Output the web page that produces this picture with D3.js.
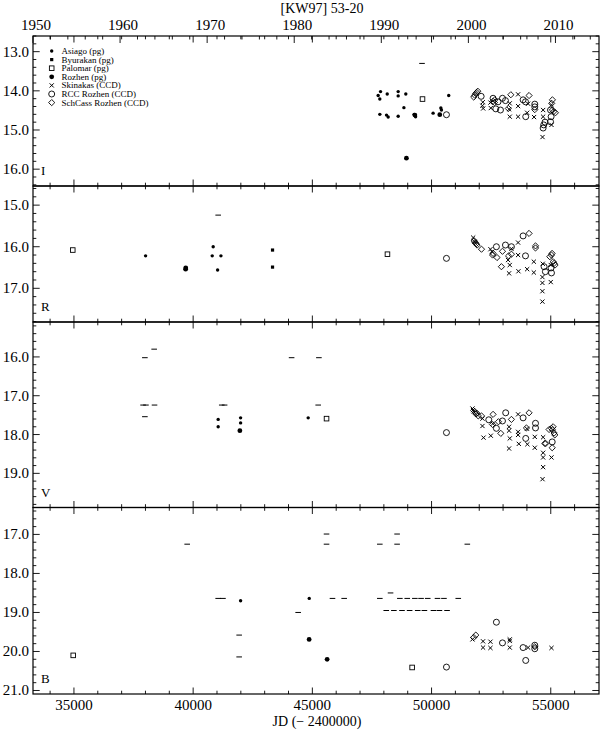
<!DOCTYPE html>
<html><head><meta charset="utf-8">
<script src="https://cdn.jsdelivr.net/npm/d3@7"></script>
<style>
body{margin:0;background:#fff;}
text{font-family:"Liberation Serif","DejaVu Serif",serif;fill:#000;}
</style></head>
<body>
<svg id="c" width="600" height="730"></svg>
<script>
// ---------- DATA (JD - 2400000, magnitude) ----------
const title = "[KW97] 53-20";
const xTitle = "JD (\u2212 2400000)";
const jdTicksMajor = [35000, 40000, 45000, 50000, 55000];
const yearLabels = [1950, 1960, 1970, 1980, 1990, 2000, 2010];
const legendNames = ["Asiago (pg)", "Byurakan (pg)", "Palomar (pg)", "Rozhen (pg)", "Skinakas (CCD)", "RCC Rozhen (CCD)", "SchCass Rozhen (CCD)"];
const legendKeys = ["asiago", "byurakan", "palomar", "rozhen", "skinakas", "rcc", "schcass"];
const bandNames = ["I", "R", "V", "B"];
const bandDomains = [[12.60, 16.43], [14.54, 17.81], [15.10, 19.88], [16.31, 21.09]];
const bandMajor = [[13, 14, 15, 16], [15, 16, 17], [16, 17, 18, 19], [17, 18, 19, 20, 21]];

// I band
const asiagoI = [[47760,14.12],[47860,14.02],[47830,14.21],[48140,14.08],[48600,14.02],[48600,14.13],[48920,14.08],[47830,14.60],[48110,14.62],[48180,14.67],[48600,14.65],[48840,14.43],[49270,14.60],[49330,14.66],[50065,14.57],[50390,14.44],[50415,14.49],[50720,14.12]];
const byurakanI = [];
const palomarI = [[49620,14.21]];
const rozhenI = [[48945,15.72],[49300,14.62],[50345,14.61]];
const skinakasI = [[52150,14.29],[52135,14.38],[52165,14.45],[52470,14.30],[52485,14.44],[53280,14.32],[53280,14.66],[53250,14.47],[53630,14.09],[53630,14.39],[53630,14.66],[54050,14.33],[54010,14.56],[54300,14.67],[54680,14.49],[54680,14.66],[54655,15.18],[55030,14.36],[55030,14.87]];
const rccI = [[50625,14.61],[52080,14.14],[52580,14.19],[52790,14.28],[52695,14.46],[52890,14.49],[52975,14.19],[53100,14.25],[53840,14.23],[53940,14.28],[53950,14.66],[54330,14.34],[54330,14.41],[54760,14.80],[54705,14.87],[54680,14.95],[54990,14.49],[55015,14.66],[54990,14.79]];
const schcassI = [[51770,14.16],[51810,14.11],[51855,14.07],[51895,14.04],[51940,14.01],[52650,14.23],[52580,14.27],[52640,14.30],[53325,14.10],[53220,14.45],[54090,14.12],[54330,14.48],[55070,14.23],[55040,14.32],[55125,14.53],[55195,14.56],[55070,14.49]];
const dashI = [[49600,13.30]];

// R band
const asiagoR = [[38005,16.22],[40840,16.00],[40800,16.22],[41165,16.22],[41025,16.56]];
const byurakanR = [[43330,16.08],[43330,16.49]];
const palomarR = [[34950,16.08],[48150,16.18]];
const rozhenR = [[39685,16.54],[39690,16.51]];
const skinakasR = [[51745,15.78],[51800,15.88],[52470,16.06],[52540,16.12],[53210,16.32],[53350,16.05],[53280,16.44],[53250,16.64],[53630,15.90],[53630,16.20],[53645,16.59],[54010,16.54],[54290,16.36],[54290,16.62],[54665,16.41],[54650,16.73],[54650,16.87],[54650,17.07],[54650,17.32],[55000,16.44],[55000,16.85]];
const rccR = [[50625,16.28],[52720,16.00],[53100,15.96],[53350,16.00],[53840,15.74],[53940,16.22],[54720,16.48],[54775,16.60],[55030,16.63],[55010,16.51]];
const schcassR = [[51790,15.86],[51830,15.90],[51870,15.93],[51910,15.96],[52095,16.06],[52580,16.16],[52560,16.20],[52745,16.26],[52975,16.11],[53350,16.18],[53230,16.22],[52930,16.48],[54090,15.68],[54360,15.98],[54360,16.03],[54960,16.24],[55030,16.20],[55055,16.16],[55100,16.36],[55140,16.40],[55180,16.44]];
const dashR = [[41050,15.24]];

// V band
const asiagoV = [[41050,17.61],[41050,17.80],[41990,17.57],[41990,17.70],[44825,17.57]];
const byurakanV = [];
const palomarV = [[45595,17.59]];
const rozhenV = [[41960,17.90]];
const skinakasV = [[51715,17.33],[51740,17.37],[51770,17.41],[52135,17.59],[52135,17.78],[52180,18.08],[52485,18.03],[52570,17.72],[53250,17.80],[53250,17.90],[53280,18.10],[53250,18.36],[53630,17.48],[53630,17.93],[53630,18.01],[53660,18.24],[54000,17.85],[54020,18.25],[54330,18.06],[54330,18.34],[54680,18.07],[54680,18.47],[54680,18.59],[54680,18.84],[54655,19.15],[55030,18.59]];
const rccV = [[50625,17.95],[52400,17.62],[52720,17.84],[52975,17.65],[53110,17.44],[53840,17.57],[53950,18.10],[54360,17.71],[54360,17.83],[55060,18.19]];
const schcassV = [[51810,17.41],[51860,17.47],[51900,17.45],[51960,17.52],[52095,17.52],[52580,17.48],[52555,17.74],[52805,17.67],[52905,17.97],[53350,17.61],[54090,17.44],[53980,17.83],[54750,18.23],[54790,18.23],[54930,17.87],[55030,17.84],[55070,17.88],[55100,17.80],[55170,18.01],[55140,17.96],[55060,18.34]];
const dashV = [[37975,16.02],[38365,15.80],[37900,17.24],[38020,17.24],[38380,17.24],[37975,17.54],[41200,17.24],[41320,17.24],[44130,16.02],[45275,16.02],[45245,17.24]];

// B band
const asiagoB = [[41990,18.70],[44870,18.64]];
const byurakanB = [];
const palomarB = [[34970,20.10],[49185,20.41]];
const rozhenB = [[44865,19.69],[45620,20.20]];
const skinakasB = [[51715,19.69],[52160,19.74],[52160,19.90],[52470,19.75],[52470,19.91],[53280,19.69],[53280,19.73],[53280,19.90],[54050,19.90],[55030,19.91]];
const rccB = [[50625,20.40],[52720,19.25],[52975,19.78],[53840,19.90],[53950,20.23],[54330,19.84],[54330,19.93]];
const schcassB = [[51770,19.64],[51855,19.58],[54330,19.88]];
const dashB = [[39750,17.25],[41050,18.64],[41250,18.64],[41930,19.58],[41930,20.14],[44405,19.00],[45595,16.99],[45595,17.25],[45845,18.64],[46335,18.64],[47830,17.25],[48555,16.99],[48555,17.25],[51500,17.25],
  [47830,18.64],[48280,18.50],[48670,18.64],[48980,18.64],[49300,18.64],[49560,18.64],[49840,18.64],[50250,18.64],[50520,18.64],[51120,18.64],
  [48100,18.95],[48420,18.95],[48760,18.95],[49080,18.95],[49420,18.95],[49700,18.95],[50080,18.95],[50330,18.95],[50650,18.95]];

// ---------- BUILD ----------
const bandData = [
  {asiago:asiagoI, byurakan:byurakanI, palomar:palomarI, rozhen:rozhenI, skinakas:skinakasI, rcc:rccI, schcass:schcassI, dash:dashI},
  {asiago:asiagoR, byurakan:byurakanR, palomar:palomarR, rozhen:rozhenR, skinakas:skinakasR, rcc:rccR, schcass:schcassR, dash:dashR},
  {asiago:asiagoV, byurakan:byurakanV, palomar:palomarV, rozhen:rozhenV, skinakas:skinakasV, rcc:rccV, schcass:schcassV, dash:dashV},
  {asiago:asiagoB, byurakan:byurakanB, palomar:palomarB, rozhen:rozhenB, skinakas:skinakasB, rcc:rccB, schcass:schcassB, dash:dashB}
];

const svg = d3.select("#c");
const L = 33, R = 599;
const panelY = [[36,186],[186,322],[322,507.5],[507.5,694]];
const x = d3.scaleLinear().domain([33282.5, 57023.5]).range([L, R]);
const xYear = d3.scaleLinear().domain([1950, 2015]).range([L, R]);

function mark(g, type, px, py) {
  const s = "#000";
  if (type === "asiago") g.append("circle").attr("cx",px).attr("cy",py).attr("r",1.7).attr("fill",s);
  else if (type === "byurakan") g.append("rect").attr("x",px-1.6).attr("y",py-1.6).attr("width",3.2).attr("height",3.2).attr("fill",s);
  else if (type === "palomar") g.append("rect").attr("x",px-2.3).attr("y",py-2.3).attr("width",4.6).attr("height",4.6).attr("fill","none").attr("stroke",s).attr("stroke-width",0.9);
  else if (type === "rozhen") g.append("circle").attr("cx",px).attr("cy",py).attr("r",2.4).attr("fill",s);
  else if (type === "skinakas") g.append("path").attr("d",`M${px-2.1},${py-2.1}L${px+2.1},${py+2.1}M${px-2.1},${py+2.1}L${px+2.1},${py-2.1}`).attr("stroke",s).attr("stroke-width",1);
  else if (type === "rcc") g.append("circle").attr("cx",px).attr("cy",py).attr("r",3).attr("fill","none").attr("stroke",s).attr("stroke-width",0.9);
  else if (type === "schcass") g.append("path").attr("d",`M${px},${py-3.1}L${px+3.1},${py}L${px},${py+3.1}L${px-3.1},${py}Z`).attr("fill","none").attr("stroke",s).attr("stroke-width",0.9);
  else if (type === "dash") g.append("line").attr("x1",px-2.8).attr("x2",px+2.8).attr("y1",py).attr("y2",py).attr("stroke",s).attr("stroke-width",1);
}

const jdMinor = d3.range(34000, 57000, 1000);

bandNames.forEach((band, i) => {
  const [y0, y1] = panelY[i];
  const y = d3.scaleLinear().domain(bandDomains[i]).range([y0, y1]);
  const g = svg.append("g");
  g.append("rect").attr("x",L).attr("y",y0).attr("width",R-L).attr("height",y1-y0)
    .attr("fill","none").attr("stroke","#000").attr("stroke-width",1.2);
  jdMinor.forEach(v => {
    const major = v % 5000 === 0;
    const len = major ? 6.5 : 3.3;
    const px = x(v);
    g.append("line").attr("x1",px).attr("x2",px).attr("y1",y0).attr("y2",y0+len).attr("stroke","#000").attr("stroke-width",0.9);
    g.append("line").attr("x1",px).attr("x2",px).attr("y1",y1).attr("y2",y1-len).attr("stroke","#000").attr("stroke-width",0.9);
  });
  const [d0, d1] = bandDomains[i];
  const minors = d3.range(Math.ceil(d0*5)/5, d1+1e-6, 0.2);
  minors.forEach(v => {
    const major = Math.abs(v - Math.round(v)) < 1e-6;
    const len = major ? 6.7 : 3.3;
    const py = y(v);
    g.append("line").attr("x1",L).attr("x2",L+len).attr("y1",py).attr("y2",py).attr("stroke","#000").attr("stroke-width",0.9);
    g.append("line").attr("x1",R).attr("x2",R-len).attr("y1",py).attr("y2",py).attr("stroke","#000").attr("stroke-width",0.9);
  });
  bandMajor[i].forEach(v => {
    g.append("text").attr("x",29).attr("y",y(v)+5).attr("text-anchor","end")
      .attr("font-size",15).text(d3.format(".1f")(v));
  });
  g.append("text").attr("x",41).attr("y",y1-11).attr("font-size",13).text(band);
  const bd = bandData[i];
  ["dash","asiago","byurakan","palomar","rozhen","skinakas","rcc","schcass"].forEach(k => {
    bd[k].forEach(d => mark(g, k, x(d[0]), y(d[1])));
  });
});

// top year axis
d3.range(1950, 2015.01, 2).forEach(yr => {
  const major = yr % 10 === 0;
  const px = xYear(yr);
  svg.append("line").attr("x1",px).attr("x2",px).attr("y1",36).attr("y2",36+(major?7:3.5)).attr("stroke","#000").attr("stroke-width",0.9);
});
yearLabels.forEach(yr => {
  svg.append("text").attr("x",xYear(yr)+3).attr("y",30).attr("text-anchor","middle").attr("font-size",15).text(yr);
});

jdTicksMajor.forEach(v => {
  svg.append("text").attr("x",x(v)).attr("y",710).attr("text-anchor","middle").attr("font-size",15).text(v);
});
svg.append("text").attr("x",317).attr("y",726).attr("text-anchor","middle").attr("font-size",14).text(xTitle);
svg.append("text").attr("x",322).attr("y",13).attr("text-anchor","middle").attr("font-size",14).text(title);

// legend
const lg = svg.append("g");
legendKeys.forEach((k, j) => {
  const py = 51 + j*8.6;
  mark(lg, k, 51.7, py);
  lg.append("text").attr("x",61.5).attr("y",py+3).attr("font-size",9).text(legendNames[j]);
});
</script>
</body></html>
